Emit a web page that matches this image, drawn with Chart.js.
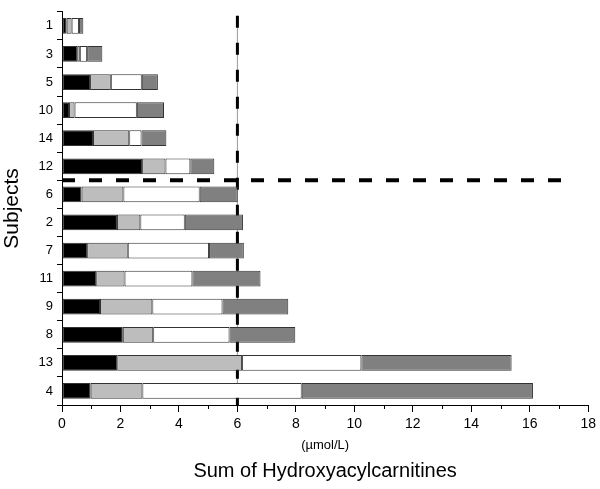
<html>
<head>
  <title>Sum of Hydroxyacylcarnitines</title>
  <script src="https://cdn.jsdelivr.net/npm/chart.js@4.4.1/dist/chart.umd.min.js"></script>
  <style>
    body { margin: 0; background: #fff; }
    .wrap { width: 600px; height: 489px; }
  </style>
</head>
<body>
<div class="wrap"><canvas id="chart" width="600" height="489"></canvas></div>
<script type="text/javascript">
// subjects, top to bottom
var subjects = ['1', '3', '5', '10', '14', '12', '6', '2', '7', '11', '9', '8', '13', '4'];
// the four stacked fractions (umol/L)
var blackPart = [0.16, 0.52, 0.96, 0.24, 1.06, 2.74, 0.67, 1.88, 0.86, 1.17, 1.30, 2.08, 1.89, 0.98];
var lightPart = [0.17, 0.09, 0.71, 0.19, 1.24, 0.80, 1.43, 0.80, 1.39, 0.97, 1.79, 1.04, 4.27, 1.77];
var whitePart = [0.25, 0.25, 1.06, 2.13, 0.42, 0.85, 2.61, 1.52, 2.78, 2.32, 2.40, 2.61, 4.08, 5.45];
var darkPart  = [0.15, 0.52, 0.55, 0.93, 0.85, 0.82, 1.30, 1.99, 1.19, 2.33, 2.25, 2.25, 5.14, 7.91];
var cutoff = 6;        // vertical dashed line
var splitAfter = 5.5;  // horizontal dashed line, between subject 12 and 6
var splitEnd = 17.2;

function seg(data, color) {
  return {
    data: data,
    backgroundColor: color,
    borderColor: '#333',
    borderWidth: 1,
    borderSkipped: false,
    barPercentage: 0.56,
    categoryPercentage: 1
  };
}

var cutoffLines = {
  id: 'cutoffLines',
  beforeDatasetsDraw: function(chart) {
    var ctx = chart.ctx, x = chart.scales.x, a = chart.chartArea;
    var px = x.getPixelForValue(cutoff);
    ctx.save();
    ctx.strokeStyle = '#999';
    ctx.lineWidth = 1;
    ctx.beginPath();
    ctx.moveTo(px, a.top + 4);
    ctx.lineTo(px, a.bottom);
    ctx.stroke();
    ctx.strokeStyle = '#000';
    ctx.lineWidth = 3;
    ctx.setLineDash([12, 15]);
    ctx.beginPath();
    ctx.moveTo(px, a.top + 4);
    ctx.lineTo(px, a.bottom);
    ctx.stroke();
    ctx.restore();
  },
  afterDatasetsDraw: function(chart) {
    var ctx = chart.ctx, x = chart.scales.x, y = chart.scales.y;
    var py = y.getPixelForValue(splitAfter);
    ctx.save();
    ctx.strokeStyle = '#000';
    ctx.lineWidth = 4;
    ctx.setLineDash([13, 14]);
    ctx.beginPath();
    ctx.moveTo(x.getPixelForValue(0), py);
    ctx.lineTo(x.getPixelForValue(splitEnd), py);
    ctx.stroke();
    ctx.restore();
  },
  afterDraw: function(chart) {
    // short minor ticks at odd values
    var ctx = chart.ctx, x = chart.scales.x, b = chart.chartArea.bottom;
    ctx.save();
    ctx.strokeStyle = '#000';
    ctx.lineWidth = 1;
    ctx.beginPath();
    for (var v = 1; v < 18; v += 2) {
      var px = Math.round(x.getPixelForValue(v)) + 0.5;
      ctx.moveTo(px, b);
      ctx.lineTo(px, b + 4);
    }
    ctx.stroke();
    ctx.restore();
  }
};

var ctx = document.getElementById('chart').getContext('2d');
var chart = new Chart(ctx, {
  type: 'bar',
  data: {
    labels: subjects,
    datasets: [
      seg(blackPart, '#000000'),
      seg(lightPart, '#bdbdbd'),
      seg(whitePart, '#ffffff'),
      seg(darkPart, '#808080')
    ]
  },
  options: {
    indexAxis: 'y',
    responsive: false,
    animation: false,
    layout: { padding: { top: 8, right: 11, left: 0, bottom: 0 } },
    plugins: {
      legend: { display: false },
      tooltip: { enabled: false },
      title: {
        display: true,
        position: 'bottom',
        fullSize: false,
        text: 'Sum of Hydroxyacylcarnitines',
        color: '#000',
        font: { family: 'Liberation Sans', size: 20, weight: 'normal' },
        padding: { top: 0, bottom: 6 }
      }
    },
    scales: {
      x: {
        stacked: true,
        min: 0,
        max: 18,
        border: { color: '#000', width: 1 },
        grid: {
          drawOnChartArea: false,
          tickLength: 7,
          color: function(c) { return c.tick && c.tick.value % 2 ? 'rgba(0,0,0,0)' : '#000'; }
        },
        ticks: {
          stepSize: 1,
          autoSkip: false,
          maxRotation: 0,
          padding: 4,
          color: '#000',
          font: { family: 'Liberation Sans', size: 14 },
          callback: function(v) { return v % 2 === 0 ? v : ''; }
        },
        title: {
          display: true,
          text: '(\u00b5mol/L)',
          color: '#000',
          font: { family: 'Liberation Sans', size: 13 },
          padding: { top: 4, bottom: 6 }
        },
        afterFit: function(s) { s.height = 54; }
      },
      y: {
        stacked: true,
        border: { color: '#000', width: 1 },
        grid: { offset: true, drawOnChartArea: false, tickLength: 5, color: '#000' },
        ticks: {
          padding: 4,
          color: '#000',
          font: { family: 'Liberation Sans', size: 13 }
        },
        title: {
          display: true,
          text: 'Subjects',
          color: '#000',
          font: { family: 'Liberation Sans', size: 21 },
          padding: 0
        },
        afterFit: function(s) { s.width = 62; }
      }
    }
  },
  plugins: [cutoffLines]
});
</script>
</body>
</html>
